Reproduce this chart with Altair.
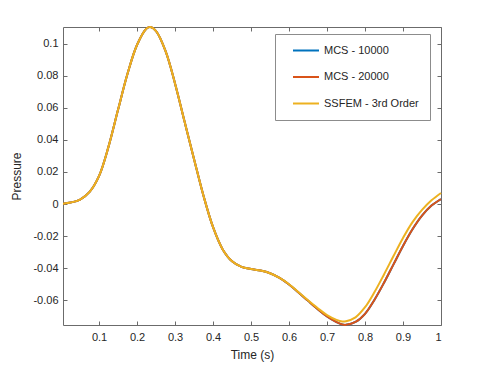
import altair as alt
import pandas as pd

series_names = ["MCS - 10000", "MCS - 20000", "SSFEM - 3rd Order"]
series_colors = ["#0072BD", "#D95319", "#EDB120"]

time_s = [0.005, 0.025, 0.05, 0.075, 0.1, 0.125, 0.15, 0.175, 0.2, 0.225,
          0.235, 0.25, 0.275, 0.3, 0.325, 0.35, 0.375, 0.4, 0.425, 0.45,
          0.475, 0.5, 0.525, 0.55, 0.575, 0.6, 0.625, 0.65, 0.675, 0.7,
          0.725, 0.74, 0.75, 0.775, 0.8, 0.825, 0.85, 0.875, 0.9, 0.925,
          0.95, 0.975, 1.0]

mcs_20000 = [0.0002, 0.0009, 0.0028, 0.0076, 0.0176, 0.0360, 0.0590, 0.0815, 0.0995, 0.1097,
             0.1106, 0.1080, 0.0955, 0.0752, 0.0515, 0.0280, 0.0050, -0.0145, -0.0282, -0.0358,
             -0.0393, -0.0406, -0.0416, -0.0433, -0.0462, -0.0503, -0.0553, -0.0605, -0.0656, -0.0702,
             -0.0738, -0.0753, -0.0755, -0.0737, -0.0686, -0.0598, -0.0492, -0.0377, -0.0262, -0.0158,
             -0.0073, -0.0010, 0.0031]

mcs_10000 = [0.0002, 0.0009, 0.0028, 0.0076, 0.0176, 0.0360, 0.0590, 0.0815, 0.0995, 0.1097,
             0.1106, 0.1080, 0.0955, 0.0752, 0.0515, 0.0280, 0.0050, -0.0145, -0.0282, -0.0358,
             -0.0393, -0.0406, -0.0416, -0.0433, -0.0462, -0.0503, -0.0553, -0.0605, -0.0656, -0.0702,
             -0.0738, -0.0753, -0.0755, -0.0737, -0.0686, -0.0598, -0.0492, -0.0377, -0.0262, -0.0158,
             -0.0073, -0.0010, 0.0031]

ssfem_3rd = [0.0002, 0.0009, 0.0028, 0.0076, 0.0176, 0.0360, 0.0590, 0.0815, 0.0995, 0.1097,
             0.1106, 0.1080, 0.0955, 0.0752, 0.0515, 0.0280, 0.0050, -0.0145, -0.0282, -0.0358,
             -0.0393, -0.0406, -0.0416, -0.0433, -0.0462, -0.0501, -0.0552, -0.0602, -0.0650, -0.0694,
             -0.0724, -0.0734, -0.0732, -0.0708, -0.0645, -0.0550, -0.0440, -0.0325, -0.0212, -0.0113,
             -0.0037, 0.0023, 0.0069]

x_ticks = [0.1, 0.2, 0.3, 0.4, 0.5, 0.6, 0.7, 0.8, 0.9, 1]
y_ticks = [-0.06, -0.04, -0.02, 0, 0.02, 0.04, 0.06, 0.08, 0.1]

rows = []
for name, vals in zip(series_names, [mcs_10000, mcs_20000, ssfem_3rd]):
    for t, v in zip(time_s, vals):
        rows.append({"t": t, "p": v, "series": name})
df = pd.DataFrame(rows)

FONT = "Liberation Sans"
AX = "#6b6b6b"
TXT = "#262626"

xs = alt.Scale(domain=[0.005, 1.0], nice=False, zero=False)
ys = alt.Scale(domain=[-0.0756, 0.1106], nice=False, zero=False)

legend = alt.Legend(title=None, orient="none", legendX=212, legendY=7,
                    fillColor="white", strokeColor="#8c8c8c", padding=11,
                    symbolType="stroke", symbolSize=676, symbolStrokeWidth=2,
                    labelFontSize=11, labelFont=FONT, labelColor=TXT,
                    labelExpr="datum.label + '\u00a0\u00a0'",
                    clipHeight=11, rowPadding=14.5, labelOffset=4, symbolOffset=6)
color = alt.Color("series:N", scale=alt.Scale(domain=series_names, range=series_colors),
                  legend=legend)

x_bottom = alt.Axis(values=x_ticks, labelExpr="'' + datum.value", orient="bottom",
                    offset=-4, tickSize=4, domain=False, grid=False, labelPadding=6,
                    title="Time (s)", titlePadding=7)
y_left = alt.Axis(values=y_ticks, labelExpr="'' + datum.value", orient="left",
                  offset=-4, tickSize=4, domain=False, grid=False, labelPadding=5,
                  title="Pressure", titlePadding=9)


def line_layer(name, first):
    enc_x = alt.X("t:Q", scale=xs, axis=x_bottom if first else None)
    enc_y = alt.Y("p:Q", scale=ys, axis=y_left if first else None)
    return (alt.Chart(df)
            .transform_filter(alt.datum.series == name)
            .mark_line(strokeWidth=2, interpolate="catmull-rom")
            .encode(x=enc_x, y=enc_y, color=color))


ghost = (alt.Chart(df)
         .transform_filter(alt.datum.series == series_names[0])
         .mark_line(strokeOpacity=0)
         .encode(
             x=alt.X("t:Q", scale=xs,
                     axis=alt.Axis(values=x_ticks, orient="top", offset=-4, tickSize=4,
                                   domain=False, grid=False, labels=False, title=None)),
             y=alt.Y("p:Q", scale=ys,
                     axis=alt.Axis(values=y_ticks, orient="right", offset=-4, tickSize=4,
                                   domain=False, grid=False, labels=False, title=None))))

chart = (alt.layer(line_layer(series_names[0], True),
                   line_layer(series_names[1], False),
                   line_layer(series_names[2], False),
                   ghost)
         .resolve_axis(x="independent", y="independent")
         .properties(width=378, height=298,
                     autosize=alt.AutoSizeParams(type="none"),
                     padding={"left": 55, "top": 19, "right": 30, "bottom": 37})
         .configure_view(stroke=AX, strokeWidth=1)
         .configure_axis(labelFont=FONT, labelFontSize=11, labelColor=TXT,
                         titleFont=FONT, titleFontSize=12, titleColor=TXT,
                         titleFontWeight="normal", tickColor=AX, tickWidth=1))

chart.save("out.html", embed_options={"renderer": "svg", "actions": False})
